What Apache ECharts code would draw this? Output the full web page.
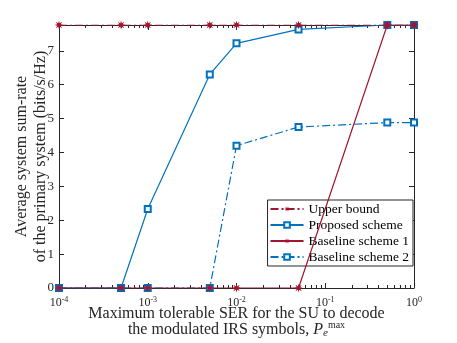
<!DOCTYPE html>
<html>
<head>
<meta charset="utf-8">
<script src="https://cdn.jsdelivr.net/npm/echarts@6/dist/echarts.min.js"></script>
<style>
  html, body { margin: 0; padding: 0; background: #fff; }
  #chart { width: 457px; height: 343px; }
</style>
</head>
<body>
<div id="chart"></div>
<script>
// SER thresholds (x axis)
const serValues = [1e-4, 5e-4, 1e-3, 5e-3, 1e-2, 5e-2, 0.5, 1]
// sum-rate values
const upperBound = [7.76, 7.76, 7.76, 7.76, 7.76, 7.76, 7.76, 7.76]
const proposed = [0, 0, 2.33, 6.3, 7.22, 7.63, 7.76, 7.76]
const baseline1 = [0, 0, 0, 0, 0, 0, 7.76, 7.76]
const baseline2 = [0, 0, 0, 0, 4.2, 4.75, 4.88, 4.88]
const yTicks = [0, 1, 2, 3, 4, 5, 6, 7]

const blue = '#0072BD'
const red = '#A2142F'
const font = 'Liberation Serif'
const starPath = 'path://M50,0 L58,30 L85,15 L70,42 L100,50 L70,58 L85,85 L58,70 L50,100 L42,70 L15,85 L30,58 L0,50 L30,42 L15,15 L42,30 Z'

const pairs = ys => serValues.map((x, i) => [x, ys[i]])

const chart = echarts.init(document.getElementById('chart'))

const xBase = {
  type: 'log',
  logBase: 10,
  min: 1e-4,
  max: 1,
  axisLine: { onZero: false, lineStyle: { color: '#262626', width: 1 } },
  axisTick: { inside: true, length: 5, lineStyle: { color: '#262626' } },
  minorTick: { show: true, splitNumber: 9, length: 3, lineStyle: { color: '#262626' } },
  splitLine: { show: false }
}
const yBase = {
  type: 'value',
  min: 0,
  max: 7.76,
  interval: 1,
  axisLine: { show: true, lineStyle: { color: '#262626', width: 1 } },
  axisTick: { show: true, inside: true, length: 5, lineStyle: { color: '#262626' } },
  splitLine: { show: false }
}

const option = {
  animation: false,
  backgroundColor: '#fff',
  textStyle: { fontFamily: font },
  grid: { left: 59, right: 43, top: 25, bottom: 55, containLabel: false, outerBoundsMode: 'none' },
  xAxis: [
    Object.assign({}, xBase, {
      position: 'bottom',
      axisLabel: {
        color: '#262626',
        margin: 8,
        formatter: v => '10{s|' + Math.round(Math.log10(v)) + '}',
        fontFamily: font,
        fontSize: 12,
        rich: { s: { fontSize: 8, verticalAlign: 'top', padding: [0, 0, 6, 0], fontFamily: font, color: '#262626' } }
      },
      name: '{t|Maximum tolerable SER for the SU to decode}\n{t|the modulated IRS symbols, }{i|P}{b|e}{u|max}',
      nameLocation: 'middle',
      nameGap: 18,
      nameMoveOverlap: false,
      nameTextStyle: {
        color: '#262626',
        lineHeight: 16,
        rich: {
          t: { fontSize: 16, lineHeight: 16, fontFamily: font, color: '#262626' },
          i: { fontSize: 16, lineHeight: 16, fontFamily: font, fontStyle: 'italic', color: '#262626' },
          b: { fontSize: 11, fontFamily: font, fontStyle: 'italic', padding: [7, 0, 0, 0], color: '#262626' },
          u: { fontSize: 10, fontFamily: font, padding: [0, 0, 9, 0], color: '#262626' }
        }
      }
    }),
    Object.assign({}, xBase, { position: 'top', axisLabel: { show: false } })
  ],
  yAxis: [
    Object.assign({}, yBase, {
      position: 'left',
      axisLabel: {
        color: '#262626',
        fontSize: 13,
        margin: 5,
        fontFamily: font,
        formatter: v => (yTicks.indexOf(v) >= 0 ? String(v) : '')
      },
      name: 'Average system sum-rate\nof the primary system (bits/s/Hz)',
      nameLocation: 'middle',
      nameGap: 9,
      nameMoveOverlap: false,
      nameTextStyle: { color: '#262626', fontSize: 16, lineHeight: 19, fontFamily: font }
    }),
    Object.assign({}, yBase, { position: 'right', axisLabel: { show: false } })
  ],
  legend: {
    right: 44,
    top: 200,
    orient: 'vertical',
    itemWidth: 33,
    itemHeight: 7,
    itemGap: 2,
    padding: [2, 4, 2, 2],
    backgroundColor: '#fff',
    borderColor: '#262626',
    borderWidth: 1,
    borderRadius: 0,
    textStyle: { fontFamily: font, fontSize: 13.5, color: '#000' },
    data: ['Upper bound', 'Proposed scheme', 'Baseline scheme 1', 'Baseline scheme 2']
  },
  series: [
    {
      name: 'Upper bound',
      type: 'line',
      data: pairs(upperBound),
      symbol: starPath,
      symbolSize: 9,
      lineStyle: { color: red, width: 1.2, type: [8, 3, 2, 3] },
      itemStyle: { color: red },
      z: 5
    },
    {
      name: 'Proposed scheme',
      type: 'line',
      data: pairs(proposed),
      symbol: 'emptyRect',
      symbolSize: 6,
      lineStyle: { color: blue, width: 1.2 },
      itemStyle: { color: blue, borderWidth: 1 },
      z: 3
    },
    {
      name: 'Baseline scheme 1',
      type: 'line',
      data: pairs(baseline1),
      symbol: starPath,
      symbolSize: 9,
      lineStyle: { color: red, width: 1.2 },
      itemStyle: { color: red },
      z: 4
    },
    {
      name: 'Baseline scheme 2',
      type: 'line',
      data: pairs(baseline2),
      symbol: 'emptyRect',
      symbolSize: 6,
      lineStyle: { color: blue, width: 1.2, type: [8, 3, 2, 3] },
      itemStyle: { color: blue, borderWidth: 1 },
      z: 2
    }
  ]
}

chart.setOption(option)
</script>
</body>
</html>
